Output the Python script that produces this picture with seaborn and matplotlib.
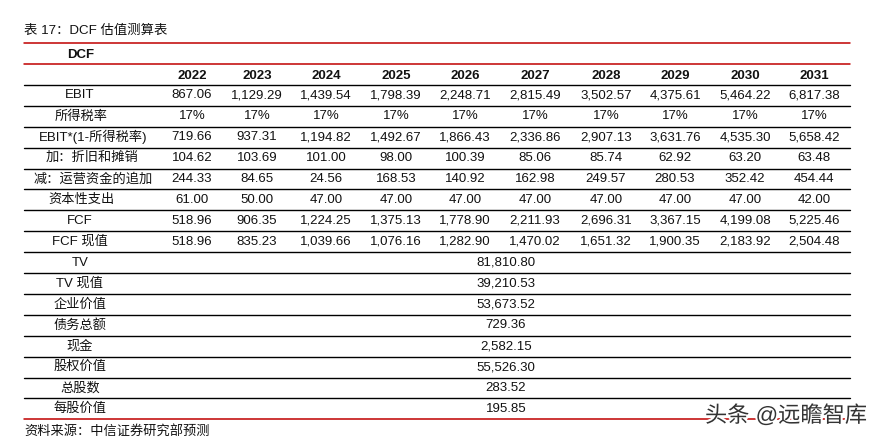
import matplotlib
matplotlib.use("Agg")
import matplotlib.pyplot as plt
import matplotlib.patheffects as pe
import seaborn as sns

sns.set_theme(style="white")
plt.rcParams['font.family'] = ['Liberation Sans', 'Noto Sans CJK SC', 'DejaVu Sans']

title = "表 17：DCF 估值测算表"
header_label = "DCF"
source = "资料来源：中信证券研究部预测"
watermark = "头条 @远瞻智库"

years = ["2022", "2023", "2024", "2025", "2026", "2027", "2028", "2029", "2030", "2031"]

row_labels = ["EBIT", "所得税率", "EBIT*(1-所得税率)", "加：折旧和摊销", "减：运营资金的追加",
              "资本性支出", "FCF", "FCF 现值"]
ebit = [867.06, 1129.29, 1439.54, 1798.39, 2248.71, 2815.49, 3502.57, 4375.61, 5464.22, 6817.38]
tax_rate = [17, 17, 17, 17, 17, 17, 17, 17, 17, 17]
nopat = [719.66, 937.31, 1194.82, 1492.67, 1866.43, 2336.86, 2907.13, 3631.76, 4535.30, 5658.42]
da = [104.62, 103.69, 101.00, 98.00, 100.39, 85.06, 85.74, 62.92, 63.20, 63.48]
wc = [244.33, 84.65, 24.56, 168.53, 140.92, 162.98, 249.57, 280.53, 352.42, 454.44]
capex = [61.00, 50.00, 47.00, 47.00, 47.00, 47.00, 47.00, 47.00, 47.00, 42.00]
fcf = [518.96, 906.35, 1224.25, 1375.13, 1778.90, 2211.93, 2696.31, 3367.15, 4199.08, 5225.46]
fcf_pv = [518.96, 835.23, 1039.66, 1076.16, 1282.90, 1470.02, 1651.32, 1900.35, 2183.92, 2504.48]

summary_labels = ["TV", "TV 现值", "企业价值", "债务总额", "现金", "股权价值", "总股数", "每股价值"]
summary_values = [81810.80, 39210.53, 53673.52, 729.36, 2582.15, 55526.30, 283.52, 195.85]

fig = plt.figure(figsize=(8.8, 4.4), dpi=100)
ax = fig.add_axes([0, 0, 1, 1])
ax.set_xlim(0, 880)
ax.set_ylim(440, 0)
ax.axis("off")

FS = 9.5
RED = "#C00000"
TXT = "#111111"
left, right = 24, 850
label_x = [80, 81, 93, 92, 93, 81, 80, 80]
col_x = [192, 257, 326, 396, 465, 535, 606, 675, 745, 814]
merged_x = 506

ax.text(left, 31, title, fontsize=9.6, va="center", ha="left", color=TXT)
ax.plot([left, right], [43, 43], color=RED, lw=1.1)
ax.text(67, 55, header_label, fontsize=FS, fontweight="bold", va="center", ha="left", color=TXT)
ax.plot([left, right], [64, 64], color=RED, lw=1.1)
for x, y in zip(col_x, years):
    ax.text(x, 76, y, fontsize=FS, fontweight="bold", va="center", ha="center", color=TXT)
ax.plot([left, right], [85, 85], color="black", lw=1.0)

def fmt(v):
    return f"{v:,.2f}"

data_rows = [
    [fmt(v) for v in ebit],
    [f"{v}%" for v in tax_rate],
    [fmt(v) for v in nopat],
    [fmt(v) for v in da],
    [fmt(v) for v in wc],
    [fmt(v) for v in capex],
    [fmt(v) for v in fcf],
    [fmt(v) for v in fcf_pv],
]

pitch = 20.9
y0 = 85
for i, (lab, vals) in enumerate(zip(row_labels, data_rows)):
    yc = y0 + pitch * (i + 0.5)
    ax.text(label_x[i], yc, lab, fontsize=FS, va="center", ha="center", color=TXT)
    for x, s in zip(col_x, vals):
        ax.text(x, yc, s, fontsize=FS, va="center", ha="center", color=TXT)
    ax.plot([left, right], [y0 + pitch * (i + 1)] * 2, color="black", lw=1.0)

y1 = y0 + pitch * len(row_labels)
for j, (lab, v) in enumerate(zip(summary_labels, summary_values)):
    yc = y1 + pitch * (j + 0.5)
    ax.text(80, yc, lab, fontsize=FS, va="center", ha="center", color=TXT)
    ax.text(merged_x, yc, fmt(v), fontsize=FS, va="center", ha="center", color=TXT)
    yl = y1 + pitch * (j + 1)
    if j < len(summary_labels) - 1:
        ax.plot([left, right], [yl, yl], color="black", lw=1.0)
    else:
        ax.plot([left, right], [yl, yl], color=RED, lw=1.1)

ax.text(left, 431, source, fontsize=9.5, va="center", ha="left", color=TXT)

ax.text(705, 416, watermark, fontsize=16, va="center", ha="left", color="#333333",
        path_effects=[pe.withStroke(linewidth=3, foreground="white")])

fig.savefig("out.png", dpi=100, facecolor="white")
